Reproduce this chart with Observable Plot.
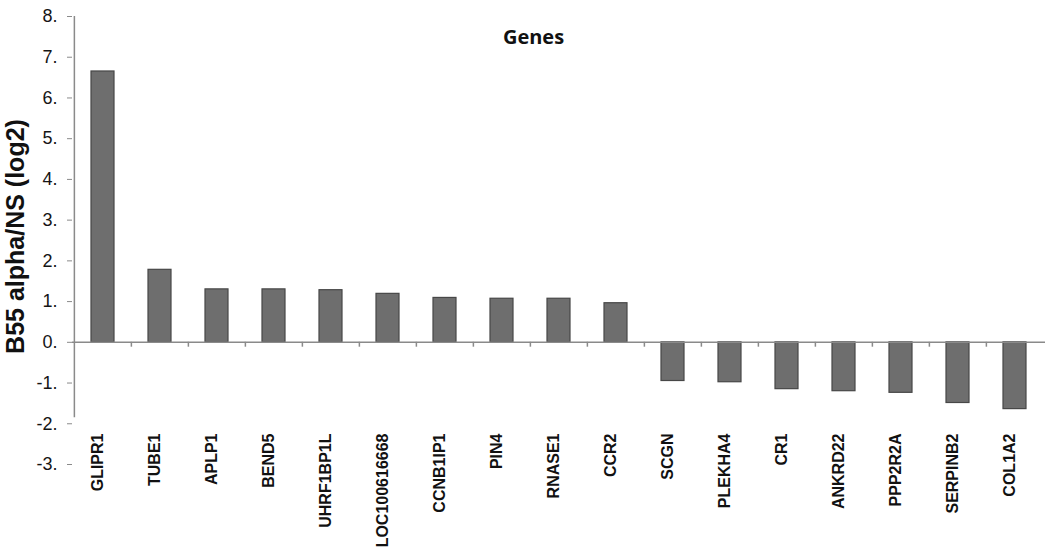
<!DOCTYPE html>
<html>
<head>
<meta charset="utf-8">
<script src="https://cdn.jsdelivr.net/npm/d3@7"></script>
<script src="https://cdn.jsdelivr.net/npm/@observablehq/plot@0.6"></script>
<style>
  html, body { margin: 0; padding: 0; background: #fff; }
  #chart svg { font-family: "Liberation Sans", Arial, sans-serif; }
</style>
</head>
<body>
<div id="chart"></div>
<script>
const genes = ["GLIPR1", "TUBE1", "APLP1", "BEND5", "UHRF1BP1L", "LOC100616668", "CCNB1IP1", "PIN4", "RNASE1", "CCR2", "SCGN", "PLEKHA4", "CR1", "ANKRD22", "PPP2R2A", "SERPINB2", "COL1A2"];
const values = [6.65, 1.78, 1.30, 1.30, 1.28, 1.19, 1.09, 1.07, 1.07, 0.96, -0.95, -0.98, -1.15, -1.20, -1.24, -1.49, -1.64];
const yTicks = [-3, -2, -1, 0, 1, 2, 3, 4, 5, 6, 7, 8];
const chartTitle = "Genes";
const yTitle = "B55 alpha/NS (log2)";

const data = genes.map((g, i) => ({gene: g, value: values[i]}));

const W = 1050, H = 555, ML = 72, MR = 5, MT = 16, MB = 91;
const step = (W - ML - MR) / genes.length;

const chart = Plot.plot({
  width: W,
  height: H,
  marginLeft: ML,
  marginRight: MR,
  marginTop: MT,
  marginBottom: MB,
  x: {domain: genes, padding: 0, axis: null},
  y: {domain: [-3, 8], axis: null},
  marks: [
    Plot.barY(data, {x: "gene", y: "value", insetLeft: 17, insetRight: 17, fill: "#6e6e6e", stroke: "#474747", strokeWidth: 1.2}),
    Plot.ruleY([0], {stroke: "#8a8a8a", strokeWidth: 1.5}),
    Plot.ruleX(genes.slice(1), {x: d => d, y1: 0, y2: -0.12, dx: -step / 2, stroke: "#8a8a8a", strokeWidth: 1.5}),
    Plot.ruleX([genes[0]], {y1: -1.85, y2: 8, dx: -step / 2, stroke: "#8a8a8a", strokeWidth: 1.5}),
    Plot.axisY(yTicks, {label: null, tickFormat: () => "", tickSize: 5, stroke: "#8a8a8a"}),
    Plot.text(yTicks, {y: d => d, text: d => d + ".", frameAnchor: "left", dx: -15, textAnchor: "end", fontSize: 18, fill: "#151515"}),
    Plot.text(genes, {x: d => d, frameAnchor: "bottom", dy: -31, rotate: -90, textAnchor: "end", fontSize: 16, fontWeight: "bold", fill: "#111"}),
    Plot.text([chartTitle], {frameAnchor: "top-left", dx: 533 - ML, dy: 13, textAnchor: "middle", fontFamily: "'Open Sans', sans-serif", fontSize: 20, fontWeight: "bold", fill: "#111"}),
    Plot.text([yTitle], {frameAnchor: "left", dx: -57, dy: -4, rotate: -90, textAnchor: "middle", fontSize: 25, fontWeight: "bold", fill: "#111"})
  ]
});
document.getElementById("chart").appendChild(chart);
</script>
</body>
</html>
